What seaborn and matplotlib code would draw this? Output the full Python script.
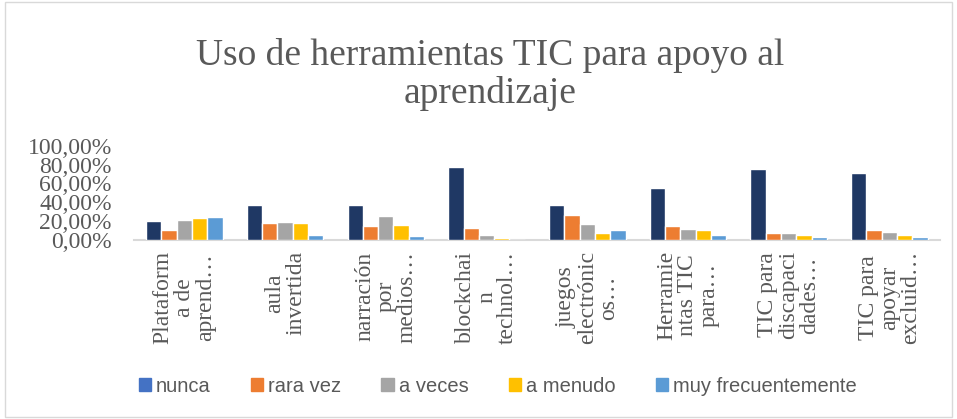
import matplotlib.pyplot as plt
import matplotlib.patches as mpatches
from matplotlib.ticker import FuncFormatter
import pandas as pd
import seaborn as sns

# data
categorias = ['Plataform\na de\naprend…', 'aula\ninvertida', 'narración\npor\nmedios…',
              'blockchai\nn\ntechnol…', 'juegos\nelectrónic\nos…', 'Herramie\nntas TIC\npara…',
              'TIC para\ndiscapaci\ndades…', 'TIC para\napoyar\nexcluid…']
respuestas = ['nunca', 'rara vez', 'a veces', 'a menudo', 'muy frecuentemente']
nunca = [0.20, 0.37, 0.37, 0.77, 0.37, 0.55, 0.75, 0.71]
rara_vez = [0.10, 0.18, 0.15, 0.12, 0.26, 0.15, 0.07, 0.10]
a_veces = [0.21, 0.19, 0.25, 0.05, 0.17, 0.11, 0.07, 0.08]
a_menudo = [0.23, 0.18, 0.16, 0.02, 0.07, 0.10, 0.045, 0.055]
muy_frec = [0.24, 0.05, 0.04, 0.0, 0.10, 0.045, 0.025, 0.025]

bar_colors = ['#1F3864', '#ED7D31', '#A5A5A5', '#FFC000', '#5B9BD5']
legend_colors = ['#4472C4', '#ED7D31', '#A5A5A5', '#FFC000', '#5B9BD5']

series = [nunca, rara_vez, a_veces, a_menudo, muy_frec]
rows = []
for resp, vals in zip(respuestas, series):
    for cat, v in zip(categorias, vals):
        rows.append({'categoria': cat, 'respuesta': resp, 'valor': v})
df = pd.DataFrame(rows)

sns.set_style('white')
plt.rcParams['font.family'] = ['Liberation Serif', 'DejaVu Serif']
gris = '#595959'

fig = plt.figure(figsize=(9.57, 4.19), dpi=100)
ax = fig.add_axes([0.140, 0.428, 0.842, 0.224])

sns.barplot(data=df, x='categoria', y='valor', hue='respuesta', order=categorias,
            hue_order=respuestas, palette=bar_colors, saturation=1, width=0.76,
            edgecolor='white', linewidth=1.0, legend=False, ax=ax)

ax.set_ylim(0, 1)
ax.set_xlim(-0.5, len(categorias) - 0.5)
ax.set_yticks([0, 0.2, 0.4, 0.6, 0.8, 1.0])
ax.yaxis.set_major_formatter(FuncFormatter(lambda v, p: f'{v * 100:.2f}%'.replace('.', ',')))
ax.tick_params(axis='y', labelsize=17, labelcolor=gris, length=0, pad=16)
ax.tick_params(axis='x', length=0, pad=8)
ax.set_xticks(range(len(categorias)))
ax.set_xticklabels(categorias, rotation=90, ha='center', va='top', multialignment='center',
                   fontsize=17, color=gris, linespacing=1.0)
ax.set_xlabel('')
ax.set_ylabel('')
for s in ['top', 'right', 'left']:
    ax.spines[s].set_visible(False)
ax.spines['bottom'].set_color('#D9D9D9')
ax.spines['bottom'].set_linewidth(1.5)
ax.spines['bottom'].set_zorder(0.5)

fig.text(0.512, 0.822, 'Uso de herramientas TIC para apoyo al\naprendizaje', ha='center',
         va='center', fontsize=27, color=gris, linespacing=1.1)

handles = [mpatches.Patch(color=c, label=r) for c, r in zip(legend_colors, respuestas)]
fig.legend(handles=handles, loc='center', bbox_to_anchor=(0.520, 0.078), ncol=5,
           frameon=False, handlelength=0.6, handleheight=0.6, handletextpad=0.25,
           columnspacing=2.0, prop={'family': 'Liberation Sans', 'size': 14.5},
           labelcolor=gris)

fig.patches.append(mpatches.Rectangle((0.005, 0.005), 0.99, 0.99, transform=fig.transFigure,
                                      fill=False, edgecolor='#D9D9D9', linewidth=1))

fig.savefig('out.png', dpi=100)
